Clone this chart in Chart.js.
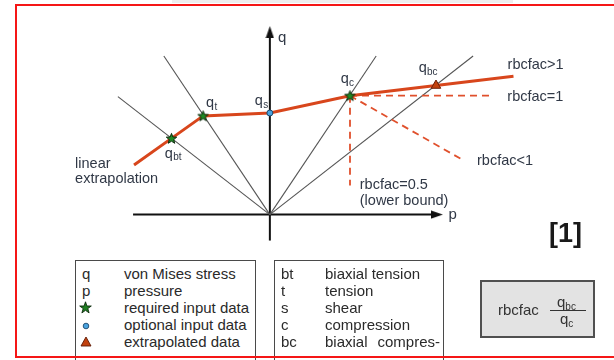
<!DOCTYPE html>
<html>
<head>
<meta charset="utf-8">
<title>rbcfac – strength curve in the p–q plane</title>
<script src="https://cdn.jsdelivr.net/npm/chart.js@4.4.1/dist/chart.umd.min.js"></script>
<style>
  html, body { margin: 0; padding: 0; background: #fff; }
  body { width: 614px; height: 360px; position: relative; overflow: hidden;
         font-family: "Liberation Sans", Arial, sans-serif; }
  #plot { position: absolute; left: 0; top: 0; }
  .strip { position: absolute; left: 172px; top: 0; width: 341px; height: 3px; background: #eeeeee; }
  .frame { position: absolute; left: 15px; top: 4px; width: 640px; height: 350px;
           border: 2px solid #f51616; border-right: none; z-index: 5; pointer-events: none; }
  .key { position: absolute; top: 260px; height: 110px; border: 1.5px solid #4a4a4a; background: #fff;
         font-size: 15px; line-height: 17px; color: #2a2a2a; }
  .key .row { position: relative; height: 17px; white-space: nowrap; }
  .key .sym { position: absolute; top: 0; }
  .key .txt { position: absolute; top: 0; }
  .key svg { position: absolute; }
  .just { display: block; text-align: justify; text-align-last: justify; }
  .ref { position: absolute; left: 549px; top: 220px; font-size: 27px; line-height: 27px;
         font-weight: bold; color: #1a1a1a; }
  .ratio { position: absolute; left: 480px; top: 280px; width: 111px; height: 54px;
           border: 2px solid #505050; background: #e3e3e3; color: #333; }
  .ratio span { position: absolute; white-space: nowrap; }
  .ratio .lbl { left: 16px; top: 20px; font-size: 15px; line-height: 15px; }
  .ratio .num, .ratio .den { font-size: 15px; line-height: 15px; }
  .ratio sub { font-size: 10px; vertical-align: -3px; line-height: 0; }
  .ratio .bar { left: 68px; top: 28px; width: 36px; height: 1px; background: #333; }
</style>
</head>
<body>
<div class="strip"></div>
<canvas id="plot" width="614" height="360"></canvas>

<!-- symbol key -->
<div class="key" style="left:75px; width:179px;">
  <div style="height:4px"></div>
  <div class="row"><span class="sym" style="left:6px">q</span><span class="txt" style="left:48px">von Mises stress</span></div>
  <div class="row"><span class="sym" style="left:6px">p</span><span class="txt" style="left:48px">pressure</span></div>
  <div class="row">
    <svg style="left:3px; top:2px" width="13" height="13" viewBox="0 0 13 13">
      <polygon points="6.5,0.8 7.9,5 12.3,5 8.8,7.6 10.1,11.9 6.5,9.3 2.9,11.9 4.2,7.6 0.7,5 5.1,5"
               fill="#1f7f22" stroke="#0c2a0c" stroke-width="0.9"/>
    </svg>
    <span class="txt" style="left:48px">required input data</span></div>
  <div class="row">
    <svg style="left:5.5px; top:5.5px" width="8" height="8" viewBox="0 0 8 8">
      <circle cx="4" cy="4" r="2.8" fill="#4aa3df" stroke="#1c4a6e" stroke-width="0.9"/>
    </svg>
    <span class="txt" style="left:48px">optional input data</span></div>
  <div class="row">
    <svg style="left:3.5px; top:3px" width="12" height="11" viewBox="0 0 12 11">
      <polygon points="6,1 11,10 1,10" fill="#c2410e" stroke="#5e1a05" stroke-width="0.9"/>
    </svg>
    <span class="txt" style="left:48px">extrapolated data</span></div>
</div>

<!-- abbreviation key -->
<div class="key" style="left:274px; width:168px;">
  <div style="height:4px"></div>
  <div class="row"><span class="sym" style="left:6px">bt</span><span class="txt" style="left:50px">biaxial tension</span></div>
  <div class="row"><span class="sym" style="left:6px">t</span><span class="txt" style="left:50px">tension</span></div>
  <div class="row"><span class="sym" style="left:6px">s</span><span class="txt" style="left:50px">shear</span></div>
  <div class="row"><span class="sym" style="left:6px">c</span><span class="txt" style="left:50px">compression</span></div>
  <div class="row"><span class="sym" style="left:6px">bc</span><span class="txt" style="left:50px; width:115px"><span class="just">biaxial compres-</span></span></div>
</div>

<div class="ref">[1]</div>

<div class="ratio">
  <span class="lbl">rbcfac</span>
  <span class="num" style="left:75px; top:12px">q<sub>bc</sub></span>
  <span class="bar"></span>
  <span class="den" style="left:78px; top:29px">q<sub>c</sub></span>
</div>

<div class="frame"></div>

<script>
// Strength curve in the p–q plane (p: pressure, q: von Mises stress)
const curveNames = ['', 'bt', 't', 's', 'c', 'bc', ''];
const curveKind  = ['end', 'required', 'required', 'optional', 'required', 'extrapolated', 'end'];
const curveP     = [-13.9, -10.07, -6.83, 0, 8.2, 17.0, 24.93];
const curveQ     = [5.17, 7.93, 10.27, 10.57, 12.37, 13.43, 14.4];

// Load-path rays from the origin, given by their far end
const rayP = [-15.55, -10.85, 10.88, 20.8];
const rayQ = [12.27, 16.5, 16.5, 16.5];

// Dashed alternatives past q_c for smaller rbcfac
const branchNames = ['rbcfac=1', 'rbcfac<1', 'rbcfac=0.5'];
const branchP = [22.53, 19.77, 8.2];
const branchQ = [12.37, 5.67, 3.03];

// Coordinate axes (start, arrow)
const pAxis = [-14, 17.1];
const qAxis = [-2.7, 19.0];

// Drawing styles
const RED = '#d8461c';
const RED_DASH = '#e0502c';
const RAY = '#555555';
const AXIS = '#111111';
const INK = '#303846';
const FONT = '"Liberation Sans", Arial, sans-serif';

function makeStar(size, fill, stroke) {
  const c = document.createElement('canvas');
  c.width = c.height = size;
  const g = c.getContext('2d');
  const cx = size / 2, cy = size / 2 + 0.4, r = size / 2 - 1, ri = r * 0.42;
  g.beginPath();
  for (let k = 0; k < 10; k++) {
    const rr = k % 2 ? ri : r;
    const a = -Math.PI / 2 + k * Math.PI / 5;
    g.lineTo(cx + rr * Math.cos(a), cy + rr * Math.sin(a));
  }
  g.closePath();
  g.fillStyle = fill; g.fill();
  g.lineWidth = 1; g.strokeStyle = stroke; g.stroke();
  return c;
}

function makeArrow() {
  const c = document.createElement('canvas');
  c.width = 9; c.height = 12;
  const g = c.getContext('2d');
  g.beginPath();
  g.moveTo(4.5, 0); g.lineTo(8.6, 12); g.lineTo(0.4, 12);
  g.closePath();
  g.fillStyle = AXIS; g.fill();
  return c;
}

const STAR = makeStar(13, '#1f8a24', '#0b2a0b');
const ARROW = makeArrow();

const pt = (p, q) => ({ x: p, y: q });
const qc = pt(curveP[4], curveQ[4]);

const markerStyle = { required: STAR, optional: 'circle', extrapolated: 'triangle', end: 'circle' };
const markerSize  = { required: 6, optional: 3, extrapolated: 5.5, end: 0 };
const markerFill  = { required: '#1f8a24', optional: '#4aa3df', extrapolated: '#c2410e', end: RED };
const markerEdge  = { required: '#0b2a0b', optional: '#1c4a6e', extrapolated: '#6b1d05', end: RED };

const datasets = [];

// strength curve (drawn on top)
datasets.push({
  data: curveP.map((p, i) => pt(p, curveQ[i])),
  showLine: true,
  borderColor: RED,
  borderWidth: 3,
  pointStyle: curveKind.map(k => markerStyle[k]),
  pointRadius: curveKind.map(k => markerSize[k]),
  pointBackgroundColor: curveKind.map(k => markerFill[k]),
  pointBorderColor: curveKind.map(k => markerEdge[k]),
  pointBorderWidth: 1
});

// dashed branches starting at q_c
branchNames.forEach((name, i) => {
  datasets.push({
    label: name,
    data: [qc, pt(branchP[i], branchQ[i])],
    showLine: true,
    borderColor: RED_DASH,
    borderWidth: 1.8,
    borderDash: [7, 5],
    pointRadius: 0
  });
});

// rays through the origin
rayP.forEach((p, i) => {
  datasets.push({
    data: [pt(0, 0), pt(p, rayQ[i])],
    showLine: true,
    borderColor: RAY,
    borderWidth: 1.1,
    pointRadius: 0
  });
});

// q axis and p axis with arrow heads
datasets.push({
  data: [pt(0, qAxis[0]), pt(0, qAxis[1])],
  showLine: true, borderColor: AXIS, borderWidth: 2,
  pointStyle: ARROW, pointRadius: [0, 5], pointRotation: 0
});
datasets.push({
  data: [pt(pAxis[0], 0), pt(pAxis[1], 0)],
  showLine: true, borderColor: AXIS, borderWidth: 2,
  pointStyle: ARROW, pointRadius: [0, 5], pointRotation: 90
});

// Free text on the diagram, anchored in (p, q) units
const notes = [
  { text: 'q', p: 0.83, q: 17.95, size: 15 },
  { text: 'p', p: 18.27, q: -0.45, size: 15 },
  { text: 'rbcfac>1', p: 24.33, q: 15.15, size: 14.5 },
  { text: 'rbcfac=1', p: 24.3, q: 11.85, size: 14.5 },
  { text: 'rbcfac<1', p: 21.2, q: 5.2, size: 14.5 },
  { text: 'rbcfac=0.5', p: 9.2, q: 2.7, size: 14.5 },
  { text: '(lower bound)', p: 9.2, q: 1.0, size: 14.5 },
  { text: 'linear', p: -19.93, q: 4.9, size: 14.5 },
  { text: 'extrapolation', p: -19.93, q: 3.25, size: 14.5 }
];

// pixel offset of each point's q-label from its marker
const labelOffset = {
  bt: [-6.6, 19.3],
  t:  [3, -8.5],
  s:  [-15, -7.8],
  c:  [-9.3, -12.3],
  bc: [-17.3, -13.2]
};

const labelPlugin = {
  id: 'diagramLabels',
  afterDatasetsDraw(chart) {
    const { ctx } = chart;
    const xs = chart.scales.x, ys = chart.scales.y;
    ctx.save();
    ctx.fillStyle = INK;
    ctx.textAlign = 'left';
    ctx.textBaseline = 'alphabetic';
    notes.forEach(n => {
      ctx.font = n.size + 'px ' + FONT;
      ctx.fillText(n.text, xs.getPixelForValue(n.p), ys.getPixelForValue(n.q));
    });
    curveNames.forEach((name, i) => {
      if (!name) return;
      const off = labelOffset[name];
      const x = xs.getPixelForValue(curveP[i]) + off[0];
      const y = ys.getPixelForValue(curveQ[i]) + off[1];
      ctx.font = '14.5px ' + FONT;
      ctx.fillText('q', x, y);
      const w = ctx.measureText('q').width;
      ctx.font = '10px ' + FONT;
      ctx.fillText(name, x + w + 0.3, y + 2.5);
    });
    ctx.restore();
  }
};

new Chart(document.getElementById('plot'), {
  type: 'scatter',
  data: { datasets },
  options: {
    responsive: false,
    animation: false,
    events: [],
    devicePixelRatio: 1,
    layout: { padding: 0 },
    elements: { line: { tension: 0 } },
    plugins: { legend: { display: false }, tooltip: { enabled: false } },
    scales: {
      x: { type: 'linear', display: false, min: -26.9, max: 34.5 },
      y: { type: 'linear', display: false, min: -14.4, max: 21.6 }
    }
  },
  plugins: [labelPlugin]
});
</script>
</body>
</html>
